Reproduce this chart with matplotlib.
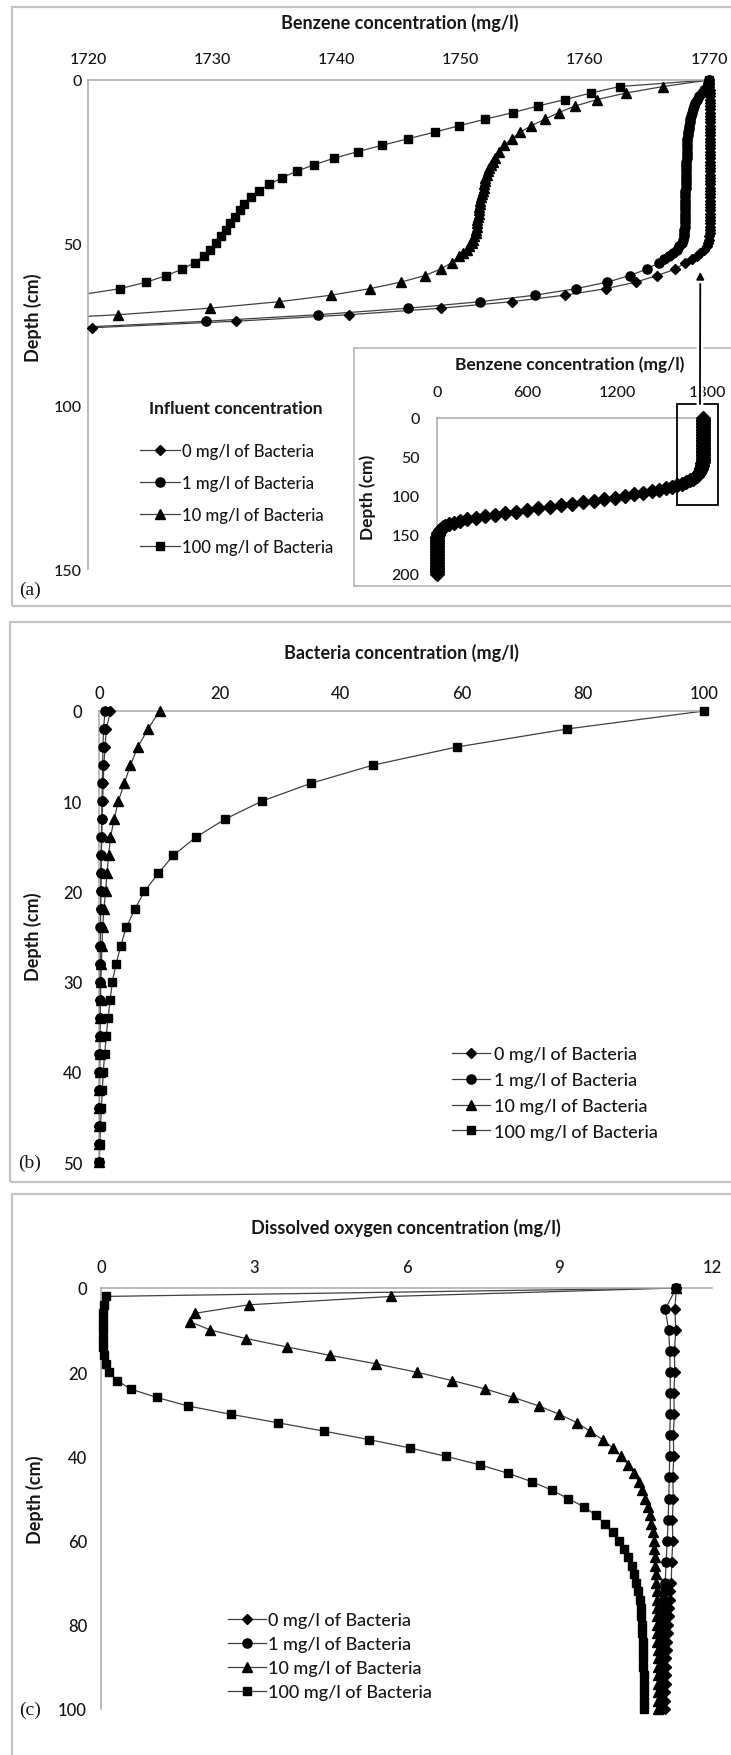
import numpy as np
import matplotlib
matplotlib.use('Agg')
import matplotlib.pyplot as plt
import matplotlib.patheffects as pe
from matplotlib.lines import Line2D
from matplotlib.patches import Rectangle, ConnectionPatch

plt.rcParams['font.family'] = ['Lato', 'DejaVu Sans']

# ---------------- data ----------------
series_labels = ['0 mg/l of Bacteria', '1 mg/l of Bacteria',
                 '10 mg/l of Bacteria', '100 mg/l of Bacteria']

# (a) Benzene concentration (mg/l) vs depth (cm)
depth_a0 = list(range(0, 57)) + list(range(58, 79, 2))
benz_0 = [1770.0, 1770.0, 1770.0, 1770.1, 1770.1, 1770.1, 1770.1, 1770.1, 1770.1, 1770.1,
          1770.1, 1770.1, 1770.1, 1770.1, 1770.1, 1770.1, 1770.1, 1770.1, 1770.1, 1770.1,
          1770.1, 1770.1, 1770.1, 1770.1, 1770.1, 1770.1, 1770.1, 1770.1, 1770.1, 1770.1,
          1770.1, 1770.1, 1770.1, 1770.1, 1770.1, 1770.1, 1770.1, 1770.1, 1770.1, 1770.1,
          1770.1, 1770.1, 1770.1, 1770.1, 1770.1, 1770.1, 1770.1, 1770.1, 1770.0, 1770.0,
          1769.9, 1769.8, 1769.6, 1769.3, 1769.0, 1768.6, 1768.1,
          1767.3, 1765.8, 1764.1, 1761.7, 1758.4, 1754.1, 1748.4, 1741.0, 1731.9, 1720.3, 1705.0]

depth_a1 = list(range(0, 57)) + list(range(58, 77, 2))
benz_1 = [1770.0, 1769.9, 1769.8, 1769.6, 1769.4, 1769.2, 1769.0, 1768.9, 1768.8, 1768.7,
          1768.6, 1768.55, 1768.5, 1768.45, 1768.4, 1768.35, 1768.3, 1768.3, 1768.25, 1768.25,
          1768.2, 1768.2, 1768.2, 1768.2, 1768.2, 1768.15, 1768.15, 1768.15, 1768.15, 1768.15,
          1768.15, 1768.15, 1768.15, 1768.15, 1768.1, 1768.1, 1768.1, 1768.1, 1768.1, 1768.1,
          1768.1, 1768.1, 1768.1, 1768.05, 1768.05, 1768.05, 1768.0, 1768.0, 1767.95, 1767.9,
          1767.8, 1767.6, 1767.4, 1767.1, 1766.8, 1766.4, 1766.0,
          1765.0, 1763.6, 1761.8, 1759.3, 1756.0, 1751.6, 1745.8, 1738.5, 1729.5, 1718.5]

depth_a10 = list(range(0, 25, 2)) + list(range(25, 54)) + list(range(54, 75, 2))
benz_10 = [1770.0, 1766.3, 1763.3, 1761.0, 1759.2, 1757.9, 1756.8, 1755.7, 1754.8, 1754.1,
           1753.5, 1753.1, 1752.8,
           1752.6, 1752.45, 1752.3, 1752.2, 1752.1, 1752.0, 1751.95, 1751.9, 1751.85, 1751.8,
           1751.7, 1751.65, 1751.6, 1751.55, 1751.5, 1751.5, 1751.45, 1751.4, 1751.35, 1751.3,
           1751.3, 1751.25, 1751.2, 1751.1, 1751.0, 1750.9, 1750.7, 1750.5, 1750.2,
           1749.9, 1749.3, 1748.4, 1747.1, 1745.2, 1742.7, 1739.6, 1735.4, 1729.8, 1722.4, 1712.5]

depth_a100 = list(range(0, 67, 2))
benz_100 = [1770.0, 1762.8, 1760.5, 1758.4, 1756.2, 1754.2, 1752.0, 1749.9, 1747.9, 1745.8,
            1743.7, 1741.7, 1739.8, 1738.2, 1736.8, 1735.6, 1734.6, 1733.8, 1733.1, 1732.6,
            1732.2, 1731.8, 1731.4, 1731.1, 1730.7, 1730.3, 1729.8, 1729.3, 1728.6, 1727.6,
            1726.3, 1724.7, 1722.6, 1719.2]

# (a) inset: full benzene profile 0-200 cm
depth_inset = list(range(0, 201, 2))
benz_inset = [1770, 1770, 1770, 1770, 1770, 1770, 1770, 1770, 1770, 1770,
              1770, 1770, 1770, 1770, 1770, 1770, 1770, 1770, 1770, 1770,
              1770, 1770, 1770, 1770, 1770, 1770, 1770, 1770, 1770, 1769,
              1766, 1764, 1762, 1758, 1754, 1748, 1741, 1732, 1720, 1705,
              1685, 1660, 1630, 1600, 1565, 1525, 1480, 1430, 1375, 1315,
              1250, 1185, 1115, 1045, 975, 900, 825, 750, 675, 600,
              525, 455, 385, 320, 258, 200, 150, 110, 78, 55,
              38, 26, 18, 12, 8, 5, 3, 2, 1, 0,
              0, 0, 0, 0, 0, 0, 0, 0, 0, 0,
              0, 0, 0, 0, 0, 0, 0, 0, 0, 0, 0]

# (b) Bacteria concentration (mg/l)
depth_b = list(range(0, 51, 2))
bact_0 = [1.9, 1.2, 1.0, 0.8, 0.7, 0.6, 0.5, 0.45, 0.4, 0.35, 0.3, 0.28, 0.25, 0.22, 0.2,
          0.18, 0.15, 0.13, 0.12, 0.1, 0.09, 0.08, 0.07, 0.06, 0.05, 0.04]
bact_1 = [1.0, 0.75, 0.65, 0.6, 0.55, 0.5, 0.45, 0.4, 0.35, 0.3, 0.3, 0.25, 0.2, 0.2, 0.15,
          0.15, 0.12, 0.1, 0.1, 0.08, 0.07, 0.06, 0.05, 0.04, 0.03, 0.02]
bact_10 = [10.0, 8.1, 6.4, 5.2, 4.2, 3.2, 2.5, 1.9, 1.6, 1.3, 1.1, 0.8, 0.6, 0.5, 0.4,
           0.3, 0.25, 0.2, 0.15, 0.12, 0.1, 0.08, 0.06, 0.05, 0.04, 0.03]
bact_100 = [100.0, 77.3, 59.1, 45.3, 35.1, 26.9, 20.8, 16.0, 12.3, 9.8, 7.5, 5.9, 4.5, 3.6,
            2.85, 2.2, 1.85, 1.5, 1.2, 0.95, 0.7, 0.55, 0.4, 0.25, 0.15, 0.05]

# (c) Dissolved oxygen concentration (mg/l)
depth_c5 = list(range(0, 71, 5)) + list(range(72, 101, 2))
oxy_0 = [11.3, 11.27, 11.29, 11.26, 11.27, 11.25, 11.26, 11.24, 11.25, 11.23, 11.24, 11.22,
         11.23, 11.21, 11.2,
         11.18, 11.17, 11.16, 11.15, 11.14, 11.13, 11.12, 11.11, 11.1, 11.1, 11.09, 11.09,
         11.08, 11.08, 11.07]
oxy_1 = [11.3, 11.08, 11.15, 11.17, 11.18, 11.18, 11.18, 11.17, 11.17, 11.16, 11.15, 11.14,
         11.12, 11.1, 11.08,
         11.07, 11.06, 11.05, 11.05, 11.04, 11.04, 11.03, 11.03, 11.02, 11.02, 11.01, 11.01,
         11.0, 11.0, 11.0]
depth_c2 = list(range(0, 101, 2))
oxy_10 = [11.3, 5.7, 2.9, 1.85, 1.75, 2.15, 2.85, 3.65, 4.5, 5.4, 6.2, 6.9, 7.55, 8.1, 8.6,
          9.0, 9.35, 9.6, 9.85, 10.05, 10.22, 10.36, 10.47, 10.56, 10.63, 10.69, 10.74, 10.78,
          10.81, 10.84, 10.86, 10.87, 10.88, 10.89, 10.9, 10.9, 10.91, 10.91, 10.91, 10.92,
          10.92, 10.92, 10.92, 10.93, 10.93, 10.93, 10.93, 10.93, 10.94, 10.94, 10.94]
oxy_100 = [11.3, 0.09, 0.05, 0.03, 0.03, 0.03, 0.03, 0.04, 0.06, 0.1, 0.16, 0.32, 0.58, 1.1,
           1.7, 2.55, 3.47, 4.38, 5.26, 6.07, 6.78, 7.44, 7.99, 8.46, 8.85, 9.17, 9.49, 9.72,
           9.9, 10.06, 10.18, 10.28, 10.36, 10.42, 10.47, 10.51, 10.55, 10.58, 10.6, 10.61,
           10.62, 10.63, 10.64, 10.64, 10.65, 10.65, 10.66, 10.66, 10.66, 10.67, 10.67]

# ---------------- figure ----------------
W, H, DPI = 731, 1756, 100
fig = plt.figure(figsize=(W / DPI, H / DPI), dpi=DPI)
fig.patch.set_facecolor('white')

def fx(px):
    return px / W

def fy(py):
    return 1 - py / H

def axes_px(left, top, right, bottom):
    return fig.add_axes([fx(left), fy(bottom), (right - left) / W, (bottom - top) / H])

LINE = '#404040'
SPINE = '#a8a8a8'
TXT = '#161616'
MARKERS = [('D', 5.0), ('o', 6.6), ('^', 7.2), ('s', 6.3)]

def style_axes(ax, xpad, ypad, fs):
    for s in ['bottom', 'right']:
        ax.spines[s].set_visible(False)
    for s in ['top', 'left']:
        ax.spines[s].set_color(SPINE)
        ax.spines[s].set_linewidth(1.1)
    ax.xaxis.tick_top()
    ax.tick_params(axis='x', length=0, pad=xpad, labelsize=fs, labelcolor=TXT)
    ax.tick_params(axis='y', length=0, pad=ypad, labelsize=fs, labelcolor=TXT)
    ax.patch.set_alpha(0)

def medium_ticks(ax):
    for lab in ax.get_xticklabels() + ax.get_yticklabels():
        lab.set_fontweight('medium')

def draw_series(ax, x, y, idx, xmin=None):
    mk, ms = MARKERS[idx]
    x = np.asarray(x, float)
    y = np.asarray(y, float)
    ax.plot(x, y, color=LINE, lw=0.9, zorder=2)
    m = np.ones(len(x), bool) if xmin is None else x >= xmin
    ax.plot(x[m], y[m], ls='none', marker=mk, ms=ms, mfc='black', mec='black',
            clip_on=False, zorder=3)

def handles():
    return [Line2D([], [], color=LINE, lw=0.9, marker=mk, ms=ms, mfc='black', mec='black')
            for mk, ms in MARKERS]

def style_legend(leg):
    for t in leg.get_texts():
        t.set_color(TXT)
        t.set_fontweight('medium')

# panel frames
for (l, t, b) in [(12, 8, 607), (10, 623, 1183), (12, 1195, 1780)]:
    fig.patches.append(Rectangle((fx(l), fy(b)), 1.5, (b - t) / H, transform=fig.transFigure,
                                 fill=False, ec='#c4c4c4', lw=1.6, zorder=0))

# ---------- (a) ----------
axA = axes_px(88, 81, 709, 570)
axA.set_zorder(1)
style_axes(axA, 10, 4.5, 11.5)
axA.set_xlim(1720, 1770)
axA.set_ylim(150, 0)
axA.set_xticks([1720, 1730, 1740, 1750, 1760, 1770])
axA.set_yticks([0, 50, 100, 150])
medium_ticks(axA)
for i, (d, v) in enumerate([(depth_a0, benz_0), (depth_a1, benz_1),
                            (depth_a10, benz_10), (depth_a100, benz_100)]):
    draw_series(axA, v, d, i, xmin=1719.8)

fig.text(fx(400), fy(23), 'Benzene concentration (mg/l)', ha='center', va='center',
         fontsize=13, fontweight='bold', color=TXT)
fig.text(fx(33), fy(318), 'Depth (cm)', ha='center', va='center', rotation=90,
         fontsize=13, fontweight='bold', color=TXT)
fig.text(fx(236), fy(409), 'Influent concentration', ha='center', va='center',
         fontsize=12.5, fontweight='bold', color=TXT)
legA = fig.legend(handles(), series_labels, loc='upper left',
                  bbox_to_anchor=(fx(140), fy(444)), bbox_transform=fig.transFigure,
                  frameon=False, fontsize=12, borderpad=0, borderaxespad=0,
                  handlelength=2.4, handletextpad=0.15, labelspacing=0.95)
style_legend(legA)
fig.text(fx(30), fy(590), '(a)', ha='center', va='center', fontsize=14,
         family='Liberation Serif', color=TXT)

# inset frame
axF = axes_px(354, 349, 760, 587)
axF.set_zorder(2)
axF.set_xticks([])
axF.set_yticks([])
axF.set_facecolor('white')
for s in axF.spines.values():
    s.set_color('#b8b8b8')
    s.set_linewidth(1.2)
axF.spines['right'].set_visible(False)

axI = axes_px(437, 419, 707, 575)
axI.set_zorder(3)
style_axes(axI, 14, 12.5, 11.5)
axI.set_xlim(0, 1800)
axI.set_ylim(200, 0)
axI.set_xticks([0, 600, 1200, 1800])
axI.set_yticks([0, 50, 100, 150, 200])
medium_ticks(axI)
axI.plot(benz_inset, depth_inset, color=LINE, lw=0.9, zorder=2)
axI.plot(benz_inset, depth_inset, ls='none', marker='D', ms=7.4, mfc='black', mec='black',
         clip_on=False, zorder=3)
axI.add_patch(Rectangle((1600, -18), 273, 129.5, fill=False, ec='black', lw=1.3,
                        clip_on=False, zorder=4))
fig.text(fx(570), fy(365), 'Benzene concentration (mg/l)', ha='center', va='center',
         fontsize=12.5, fontweight='bold', color=TXT, zorder=5)
fig.text(fx(368), fy(497), 'Depth (cm)', ha='center', va='center', rotation=90,
         fontsize=12.5, fontweight='bold', color=TXT, zorder=5)

con = ConnectionPatch(xyA=(1753, -18), coordsA=axI.transData,
                      xyB=(1769.3, 58.8), coordsB=axA.transData,
                      arrowstyle='-|>', color='black', lw=1.3, mutation_scale=11,
                      shrinkA=0, shrinkB=0, zorder=10)
con.set_path_effects([pe.Stroke(linewidth=5, foreground='white'), pe.Normal()])
fig.add_artist(con)

# ---------- (b) ----------
axB = axes_px(99, 712, 704, 1163)
style_axes(axB, 7.5, 12, 12)
axB.set_xlim(0, 100)
axB.set_ylim(50, 0)
axB.set_xticks([0, 20, 40, 60, 80, 100])
axB.set_yticks([0, 10, 20, 30, 40, 50])
medium_ticks(axB)
for i, v in enumerate([bact_0, bact_1, bact_10, bact_100]):
    draw_series(axB, v, depth_b, i)
fig.text(fx(401), fy(653), 'Bacteria concentration (mg/l)', ha='center', va='center',
         fontsize=13, fontweight='bold', color=TXT)
fig.text(fx(33), fy(937), 'Depth (cm)', ha='center', va='center', rotation=90,
         fontsize=13, fontweight='bold', color=TXT)
legB = fig.legend(handles(), series_labels, loc='upper left',
                  bbox_to_anchor=(fx(452), fy(1047)), bbox_transform=fig.transFigure,
                  frameon=False, fontsize=13, borderpad=0, borderaxespad=0,
                  handlelength=2.1, handletextpad=0.22, labelspacing=0.55)
style_legend(legB)
fig.text(fx(30), fy(1163), '(b)', ha='center', va='center', fontsize=14,
         family='Liberation Serif', color=TXT)

# ---------- (c) ----------
axC = axes_px(101, 1289, 712, 1710)
style_axes(axC, 9, 10, 12)
axC.set_xlim(0, 12)
axC.set_ylim(100, 0)
axC.set_xticks([0, 3, 6, 9, 12])
axC.set_yticks([0, 20, 40, 60, 80, 100])
medium_ticks(axC)
draw_series(axC, oxy_0, depth_c5, 0)
draw_series(axC, oxy_1, depth_c5, 1)
draw_series(axC, oxy_10, depth_c2, 2)
draw_series(axC, oxy_100, depth_c2, 3)
fig.text(fx(406), fy(1228), 'Dissolved oxygen concentration (mg/l)', ha='center',
         va='center', fontsize=13, fontweight='bold', color=TXT)
fig.text(fx(35), fy(1500), 'Depth (cm)', ha='center', va='center', rotation=90,
         fontsize=13, fontweight='bold', color=TXT)
legC = fig.legend(handles(), series_labels, loc='upper left',
                  bbox_to_anchor=(fx(228), fy(1613)), bbox_transform=fig.transFigure,
                  frameon=False, fontsize=13, borderpad=0, borderaxespad=0,
                  handlelength=2.1, handletextpad=0.12, labelspacing=0.45)
style_legend(legC)
fig.text(fx(30), fy(1710), '(c)', ha='center', va='center', fontsize=14,
         family='Liberation Serif', color=TXT)

fig.savefig('out.png', dpi=DPI, facecolor='white')
